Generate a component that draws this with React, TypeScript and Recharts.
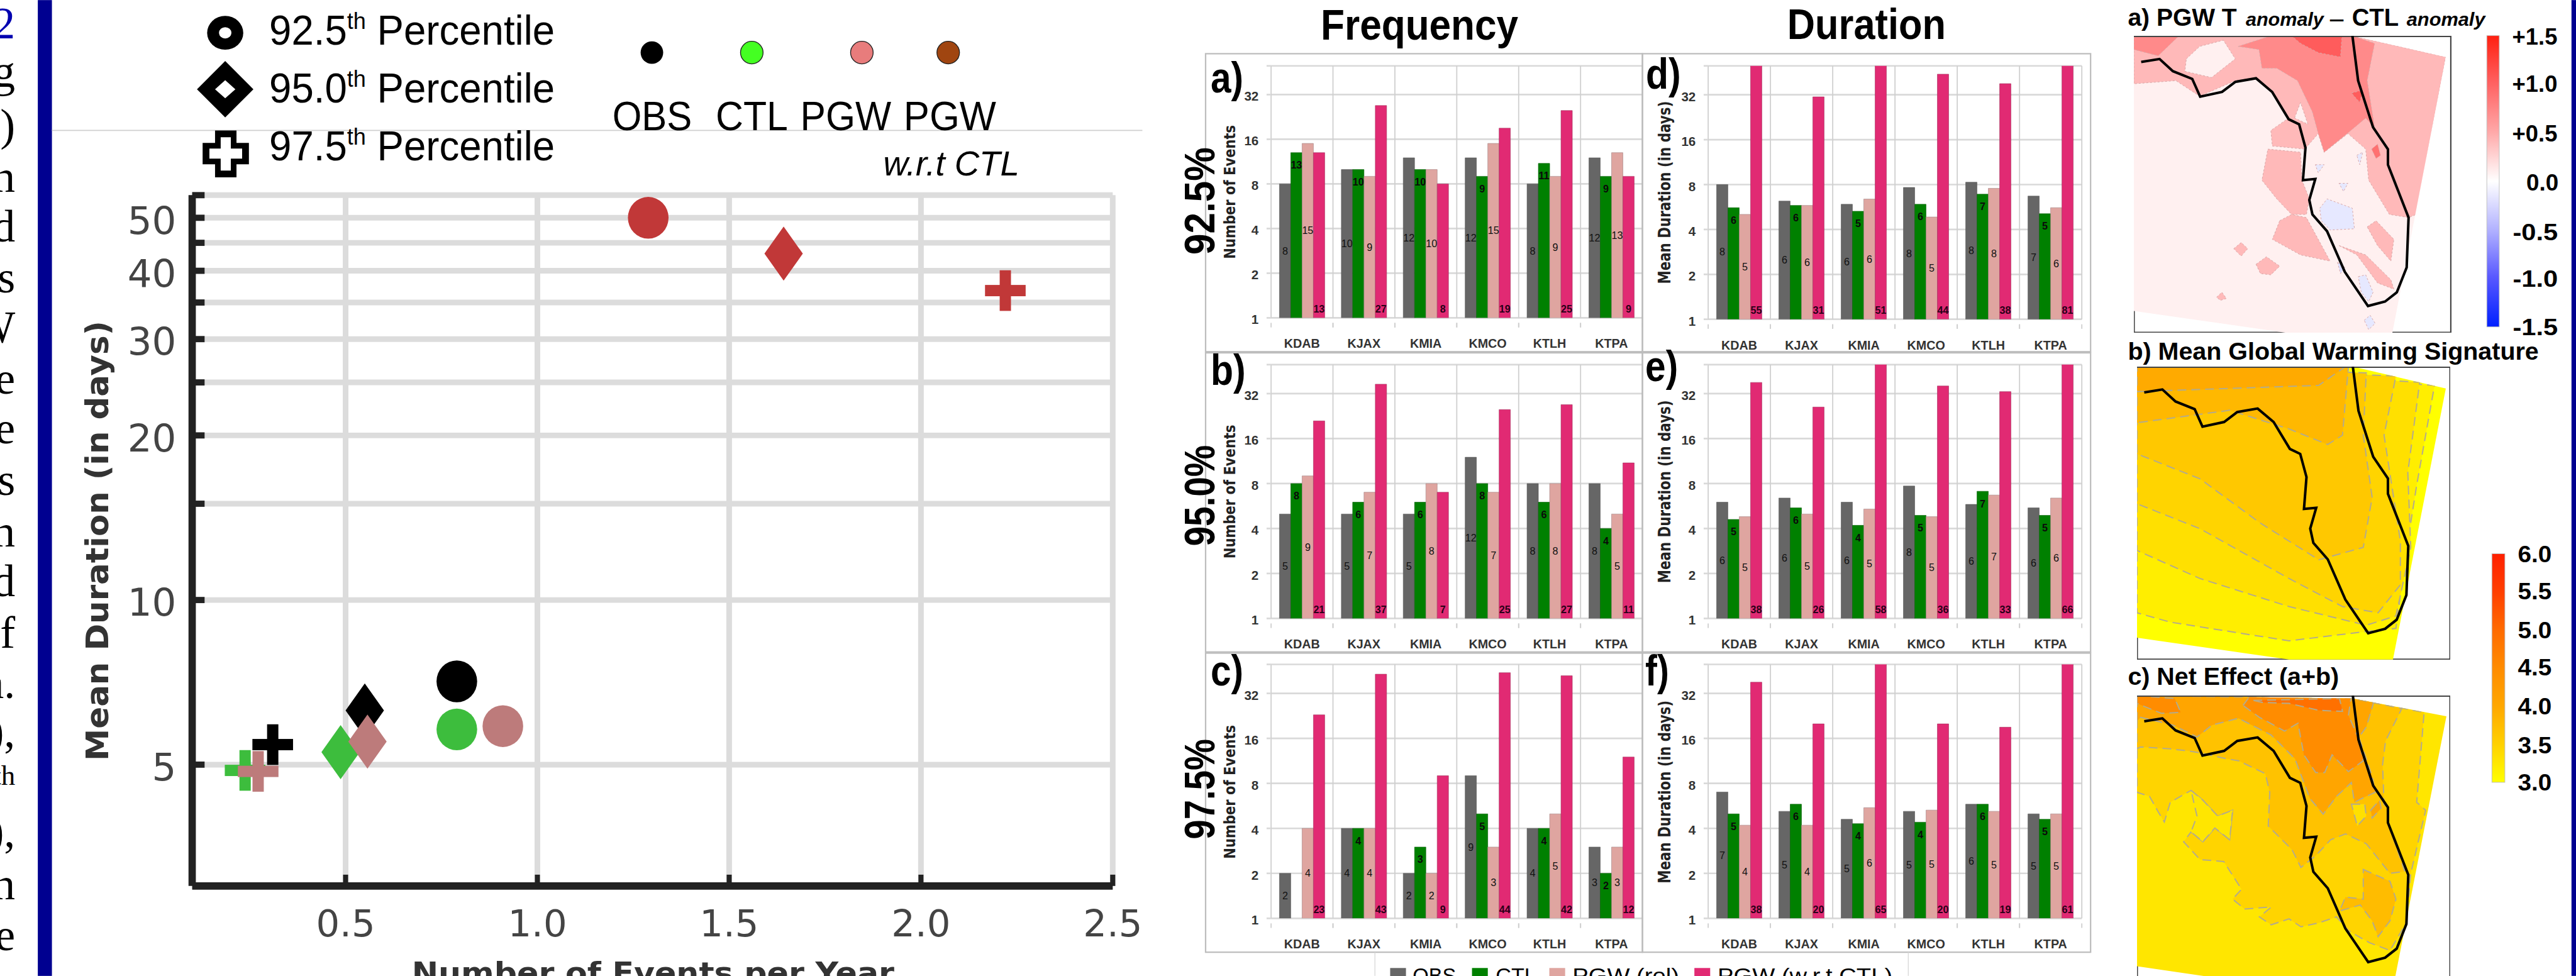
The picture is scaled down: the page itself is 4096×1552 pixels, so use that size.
import {
  Bar,
  BarChart,
  CartesianGrid,
  LabelList,
  Line,
  LineChart,
  Scatter,
  ScatterChart,
  XAxis,
  YAxis,
} from "recharts";

// the reference is 4564 wide, everything is read in its pixels and scaled here
const S = 4096 / 4564;
const s = (v: number) => v * S;

const SANS = "Liberation Sans";
const DEJAVU = "DejaVu Sans";

const stations = ["KDAB", "KJAX", "KMIA", "KMCO", "KTLH", "KTPA"];
const barTicks = [1, 2, 4, 8, 16, 32, 50];

const C_OBS = "#666666";
const C_CTL = "#008000";
const C_PGW = "#dfa5a0";
const C_WRT = "#e12a73";

// Frequency, number of events
const freqA = {
  obs: [8, 10, 12, 12, 8, 12],
  ctl: [13, 10, 10, 9, 11, 9],
  pgw: [15, 9, 10, 15, 9, 13],
  wrt: [13, 27, 8, 19, 25, 9],
};
const freqB = {
  obs: [5, 5, 5, 12, 8, 8],
  ctl: [8, 6, 6, 8, 6, 4],
  pgw: [9, 7, 8, 7, 8, 5],
  wrt: [21, 37, 7, 25, 27, 11],
};
const freqC = {
  obs: [2, 4, 2, 9, 4, 3],
  ctl: [1, 4, 3, 5, 4, 2],
  pgw: [4, 4, 2, 3, 5, 3],
  wrt: [23, 43, 9, 44, 42, 12],
};

// Duration, mean days
const durD = {
  obs: [8.0, 6.2, 5.9, 7.65, 8.3, 6.7],
  ctl: [5.6, 5.8, 5.3, 5.9, 6.9, 5.1],
  pgw: [5.05, 5.8, 6.4, 4.85, 7.55, 5.6],
  wrt: [55, 31, 51, 44, 38, 81],
};
const durE = {
  obs: [6.0, 6.4, 6.0, 7.7, 5.8, 5.5],
  ctl: [4.6, 5.5, 4.2, 4.9, 7.1, 4.9],
  pgw: [4.8, 5.0, 5.4, 4.8, 6.7, 6.4],
  wrt: [38, 26, 58, 36, 33, 66],
};
const durF = {
  obs: [7.0, 5.2, 4.6, 5.2, 5.8, 5.0],
  ctl: [5.0, 5.8, 4.3, 4.4, 5.8, 4.6],
  pgw: [4.2, 4.2, 5.5, 5.3, 5.2, 5.0],
  wrt: [38, 20, 65, 20, 19, 61],
};

// Scatter, order is 92.5 / 95.0 / 97.5 percentile
const scatterKinds = ["circle", "diamond", "plus"];
const obsEvents = [0.79, 0.55, 0.31];
const obsDays = [7.1, 6.28, 5.44];
const ctlEvents = [0.79, 0.487, 0.238];
const ctlDays = [5.8, 5.27, 4.88];
const pgwEvents = [0.91, 0.557, 0.272];
const pgwDays = [5.88, 5.51, 4.86];
const wrtEvents = [1.289, 1.642, 2.22];
const wrtDays = [50, 43, 36.8];

const scatterSeries = [
  { color: "#000000", xs: obsEvents, ys: obsDays },
  { color: "#3dbd3d", xs: ctlEvents, ys: ctlDays },
  { color: "#bd7b7b", xs: pgwEvents, ys: pgwDays },
  { color: "#c13838", xs: wrtEvents, ys: wrtDays },
];

const scatterXTicks = [0.5, 1, 1.5, 2, 2.5];
const scatterYTicks = [5, 10, 15, 20, 25, 30, 35, 40, 45, 50, 55];
const scatterYLabels = [5, 10, 20, 30, 40, 50];

// Florida coast, percent of the map frame
const coastX = [2.3, 8.1, 12.3, 18.4, 20.9, 27.8, 32, 38.5, 43.6, 48.8, 52.1, 54.1, 53.3, 57.2, 55.3, 56.3, 60.9, 66.5, 73.8, 79.2, 82.9, 86, 86.6, 80.1, 80.1, 75.4, 70.7, 68.9];
const coastY = [8.8, 7.8, 11.9, 14.5, 20.5, 18.9, 15.5, 14.3, 18.9, 28.1, 29.8, 37.7, 48.6, 48.2, 55.3, 60.2, 65.8, 79.5, 91, 89.5, 86.4, 78, 61.2, 43.4, 38.2, 30.8, 15.1, 0];
const coast = coastX.map((x, i) => ({ x, y: coastY[i] }));

const mapA = {
  frame: [78, 58, 1070, 477],
  domain: "78,58 815,58 1130,92 950,535 590,535 78,500",
  fill: "#fff0f0",
  dashed: false,
  layers: [
    ["#ffb9b9", "78,58 815,58 1130,92 1030,345 1005,350 940,345 870,290 860,240 800,215 720,245 700,215 655,240 545,235 540,210 600,190 545,150 490,125 420,130 300,155 220,130 78,135"],
    ["#ffb9b9", "530,240 640,245 645,290 670,320 660,345 610,345 560,320 510,290"],
    ["#ffb9b9", "570,355 610,345 660,350 740,420 640,410 545,385"],
    ["#ffb9b9", "865,365 895,355 955,385 945,420 900,395"],
    ["#ffb9b9", "770,395 860,410 945,450 955,465 900,455 830,410"],
    ["#ffb9b9", "415,400 440,390 462,400 440,412"],
    ["#ffb9b9", "490,425 525,413 570,428 540,442 505,440"],
    ["#ffb9b9", "357,478 375,470 390,480 370,483"],
    ["#fff0f0", "255,95 300,75 380,65 420,95 340,125 250,115"],
    ["#fff0f0", "620,190 640,165 665,200"],
    ["#ff8a8a", "430,75 540,58 815,58 890,70 865,130 890,205 860,190 810,210 720,245 700,215 680,180 630,130 560,110 510,110 500,80"],
    ["#ff8a8a", "78,58 230,58 160,90 78,80"],
    ["#ff5c5c", "610,58 780,58 775,92 700,85 640,70"],
    ["#ff5c5c", "812,150 850,145 840,165"],
    ["#ff7070", "880,240 900,232 910,250 895,255"],
    ["#e6e8ff", "705,335 730,320 815,335 822,368 740,370 710,355"],
    ["#e6e8ff", "835,445 860,442 885,470 870,485 845,470"],
    ["#d8dcff", "765,422 790,430 775,440"],
    ["#e6e8ff", "855,515 875,507 892,520 870,530"],
    ["#e6e8ff", "690,265 720,265 700,278"],
    ["#e6e8ff", "770,295 800,295 785,308"],
    ["#e6e8ff", "830,250 850,245 840,265"],
  ],
};

const mapB = {
  frame: [88, 590, 1055, 470],
  domain: "88,590 815,590 1128,625 950,1060 600,1060 88,1025",
  fill: "#ffff00",
  dashed: true,
  layers: [
    ["#ffee00", "88,590 1090,620 1030,780 1000,870 960,1010 860,1015 600,1030 200,1000 88,985"],
    ["#ffe000", "88,590 1040,615 1000,760 1010,880 960,990 860,1005 600,975 300,930 88,885"],
    ["#ffd400", "88,590 960,605 920,700 975,870 975,940 900,985 780,975 600,930 300,850 88,810"],
    ["#ffc800", "88,590 860,600 850,700 880,800 850,880 700,900 500,840 300,770 88,730"],
    ["#ffb800", "88,590 800,590 780,700 730,715 600,690 400,660 88,680"],
    ["#ffaa00", "88,590 790,590 700,620 400,625 88,630"],
  ],
};

const mapC = {
  frame: [88, 150, 1055, 1482],
  domain: "88,150 815,165 1130,255 950,1632 600,1632 88,1520",
  fill: "#ffe600",
  dashed: true,
  layers: [
    ["#ffd400", "88,150 815,165 1055,235 1030,690 1060,730 1010,1050 995,1300 940,1440 870,1400 800,1340 760,1270 700,1300 640,1320 600,1280 540,1310 500,1270 540,1220 450,1230 410,1180 440,1130 380,990 300,980 245,890 270,840 310,890 350,820 400,880 410,730 360,760 310,680 270,630 200,690 180,790 160,740 130,660 88,640"],
    ["#ffc200", "88,150 815,165 980,215 925,380 915,500 920,700 935,720 935,800 990,1040 940,1050 860,900 790,850 740,880 690,960 640,1020 610,930 530,810 535,640 520,545 430,480 390,470 300,440 260,430 200,420 100,410 88,420"],
    ["#ffa500", "88,150 815,165 885,185 860,310 835,360 880,560 890,640 860,660 820,690 810,590 760,660 715,750 670,670 650,590 620,470 540,350 430,265 340,300 290,360 210,300 100,260 88,280"],
    ["#ff8c00", "445,200 470,150 810,150 800,250 835,370 850,480 800,535 745,450 720,540 690,540 650,450 630,290 585,330 500,260"],
    ["#ff8c00", "88,150 215,165 235,235 170,240 88,190"],
    ["#ff7000", "480,175 770,165 780,230 700,225 600,190 510,185"],
    ["#ffbc00", "850,1030 940,1090 960,1180 940,1290 900,1370 880,1290 840,1210 770,1240 790,1170 850,1180"],
    ["#ffa500", "875,730 905,680 910,720 880,770"],
    ["#ffe000", "810,700 855,700 860,760 830,810"],
    ["#ffe600", "270,630 310,680 360,760 410,730 400,880 350,820 310,890 270,840 290,760"],
  ],
};

type Levels = { obs: number[]; ctl: number[]; pgw: number[]; wrt: number[] };

const barLayout = [
  { levels: freqA, l: 2136, r: 2910, boxT: 95, boxB: 623, pl: 2252, pr: 2910, pt: 117, pb: 563.5 },
  { levels: freqB, l: 2136, r: 2910, boxT: 625, boxB: 1155, pl: 2252, pr: 2910, pt: 646, pb: 1095.7 },
  { levels: freqC, l: 2136, r: 2910, boxT: 1157, boxB: 1687, pl: 2252, pr: 2910, pt: 1177.6, pb: 1627.6 },
  { levels: durD, l: 2910, r: 3704, boxT: 95, boxB: 623, pl: 3026, pr: 3688, pt: 117, pb: 566 },
  { levels: durE, l: 2910, r: 3704, boxT: 625, boxB: 1155, pl: 3026, pr: 3688, pt: 646, pb: 1095.7 },
  { levels: durF, l: 2910, r: 3704, boxT: 1157, boxB: 1687, pl: 3026, pr: 3688, pt: 1177.6, pb: 1627.6 },
];

function barLabel(mode: "middle" | "top" | "base", fill: string) {
  return (props: any) => {
    const box = props.viewBox ?? props;
    const { x, y, width, height } = box;
    const base = y + height;
    let ty = y + height / 2;
    if (mode === "top") ty = height < s(40) ? base - s(16) : y + s(22);
    if (mode === "base") ty = base - s(16);
    return (
      <text
        x={x + width / 2}
        y={ty}
        dy="0.35em"
        textAnchor="middle"
        fontFamily={SANS}
        fontSize={s(18)}
        fontWeight={mode === "middle" ? "normal" : "bold"}
        fill={fill}
      >
        {Math.round(props.value)}
      </text>
    );
  };
}

function StationTick(props: any) {
  const { x, y, payload, band } = props;
  return (
    <g>
      <line x1={x - band / 2} x2={x - band / 2} y1={y} y2={y + s(8)} stroke="#cfcfcf" strokeWidth={s(2)} />
      <line x1={x + band / 2} x2={x + band / 2} y1={y} y2={y + s(8)} stroke="#cfcfcf" strokeWidth={s(2)} />
      <text x={x} y={y + s(44.5)} textAnchor="middle" fontFamily={SANS} fontSize={s(22)} fontWeight="bold" fill="#333">
        {payload.value}
      </text>
    </g>
  );
}

function BarPanel({ p }: { p: (typeof barLayout)[number] }) {
  const levels: Levels = p.levels;
  const data = stations.map((station, i) => ({
    station,
    obs: levels.obs[i],
    ctl: levels.ctl[i],
    pgw: levels.pgw[i],
    wrt: levels.wrt[i],
  }));
  const band = s(p.pr - p.pl) / stations.length;
  const axisW = 60;
  return (
    <div style={{ position: "absolute", left: s(p.l), top: s(p.boxT) }}>
      <BarChart
        width={s(p.r - p.l)}
        height={s(p.boxB - p.boxT)}
        data={data}
        barGap={0}
        barCategoryGap="13.5%"
        margin={{ left: s(p.pl - p.l - axisW), right: s(p.r - p.pr), top: s(p.pt - p.boxT), bottom: 0 }}
      >
        <CartesianGrid vertical={false} stroke="#d9d9d9" strokeWidth={s(3)} />
        <CartesianGrid
          horizontal={false}
          stroke="#cfcfcf"
          strokeWidth={s(2)}
          verticalCoordinatesGenerator={({ offset }: any) =>
            stations.concat("end").map((_, i) => offset.left + (i * offset.width) / stations.length)
          }
        />
        <XAxis
          dataKey="station"
          height={s(p.boxB - p.pb)}
          axisLine={false}
          tickLine={false}
          interval={0}
          tick={<StationTick band={band} />}
        />
        <YAxis
          type="number"
          scale="log"
          domain={[1, 50]}
          allowDataOverflow
          ticks={barTicks}
          interval={0}
          width={s(axisW)}
          axisLine={false}
          tickSize={s(8)}
          tickMargin={s(14)}
          tickLine={{ stroke: "#d9d9d9", strokeWidth: s(3) }}
          tickFormatter={(v: number) => (v === 50 ? "" : String(v))}
          tick={{ fontFamily: SANS, fontSize: s(23), fontWeight: "bold", fill: "#333", dy: s(3) }}
        />
        <Bar dataKey="obs" fill={C_OBS} stroke="#555" strokeWidth={0.6} isAnimationActive={false}>
          <LabelList dataKey="obs" content={barLabel("middle", "#111")} />
        </Bar>
        <Bar dataKey="ctl" fill={C_CTL} stroke="#055a05" strokeWidth={0.6} isAnimationActive={false}>
          <LabelList dataKey="ctl" content={barLabel("top", "#0a0a0a")} />
        </Bar>
        <Bar dataKey="pgw" fill={C_PGW} stroke="#a08080" strokeWidth={0.6} isAnimationActive={false}>
          <LabelList dataKey="pgw" content={barLabel("middle", "#111")} />
        </Bar>
        <Bar dataKey="wrt" fill={C_WRT} stroke="#a0305a" strokeWidth={0.6} isAnimationActive={false}>
          <LabelList dataKey="wrt" content={barLabel("base", "#2a0018")} />
        </Bar>
      </BarChart>
    </div>
  );
}

function Marker({ cx, cy, kind, color }: any) {
  if (kind === "circle") return <ellipse cx={cx} cy={cy} rx={s(36)} ry={s(37)} fill={color} />;
  if (kind === "diamond") {
    const w = s(34);
    const h = s(48);
    return <polygon points={`${cx},${cy - h} ${cx + w},${cy} ${cx},${cy + h} ${cx - w},${cy}`} fill={color} />;
  }
  const w = s(36);
  const t = s(10);
  return (
    <g fill={color}>
      <rect x={cx - w} y={cy - t} width={w * 2} height={t * 2} />
      <rect x={cx - t} y={cy - w} width={t * 2} height={w * 2} />
    </g>
  );
}

function ScatterPanel() {
  // chart box 170..2090 x 320..1700, plot 340..1971 x 346..1570
  const axisW = 120;
  return (
    <div style={{ position: "absolute", left: s(170), top: s(320) }}>
      <ScatterChart
        width={s(1920)}
        height={s(1380)}
        margin={{ left: s(340 - 170 - axisW), right: s(2090 - 1971), top: s(346 - 320), bottom: 0 }}
      >
        <CartesianGrid stroke="#dcdcdc" strokeWidth={s(10)} />
        <XAxis
          type="number"
          dataKey="x"
          domain={[0.1, 2.5]}
          ticks={scatterXTicks}
          interval={0}
          allowDataOverflow
          height={s(1700 - 1570)}
          axisLine={{ stroke: "#222", strokeWidth: s(13) }}
          tickLine={{ stroke: "#222", strokeWidth: s(9) }}
          tickSize={-s(20)}
          tickMargin={s(62)}
          tickFormatter={(v: number) => v.toFixed(1)}
          tick={{ fontFamily: DEJAVU, fontSize: s(66), fill: "#444" }}
        />
        <YAxis
          type="number"
          dataKey="y"
          scale="log"
          domain={[3, 55]}
          ticks={scatterYTicks}
          interval={0}
          allowDataOverflow
          width={s(axisW)}
          axisLine={{ stroke: "#222", strokeWidth: s(13) }}
          tickLine={{ stroke: "#222", strokeWidth: s(11) }}
          tickSize={-s(22)}
          tickMargin={s(50)}
          tickFormatter={(v: number) => (scatterYLabels.includes(v) ? String(v) : "")}
          tick={{ fontFamily: DEJAVU, fontSize: s(68), fill: "#444", dy: s(4) }}
        />
        {scatterSeries.map((series) =>
          scatterKinds.map((kind, i) => (
            <Scatter
              key={series.color + kind}
              data={[{ x: series.xs[i], y: series.ys[i] }]}
              isAnimationActive={false}
              shape={(p: any) => <Marker cx={p.cx} cy={p.cy} kind={kind} color={series.color} />}
            />
          ))
        )}
      </ScatterChart>
    </div>
  );
}

type Box = { x: number; y: number; w: number; h: number };

function MapPanel({ map, box, id }: { map: typeof mapA; box: Box; id: string }) {
  const [fx, fy, fw, fh] = map.frame;
  const left = s(box.x);
  const top = s(box.y);
  return (
    <div style={{ position: "absolute", left, top, width: s(box.w), height: s(box.h) }}>
      <svg
        width={s(box.w)}
        height={s(box.h)}
        viewBox={`${fx} ${fy} ${fw} ${fh}`}
        preserveAspectRatio="none"
        style={{ position: "absolute", left: 0, top: 0 }}
      >
        <clipPath id={id}>
          <polygon points={map.domain} />
        </clipPath>
        <rect
          x={fx}
          y={fy}
          width={fw}
          height={fh}
          fill="#fff"
          stroke="#444"
          strokeWidth={3}
          vectorEffect="non-scaling-stroke"
        />
        <polygon points={map.domain} fill={map.fill} />
        <g clipPath={`url(#${id})`}>
          {map.layers.map(([fill, points], i) => (
            <polygon
              key={i}
              points={points}
              fill={fill}
              stroke={map.dashed ? "#b4ab8c" : "#d8a8a8"}
              strokeWidth={map.dashed ? 2 : 1}
              strokeDasharray={map.dashed ? "14 8" : "3 3"}
              vectorEffect="non-scaling-stroke"
            />
          ))}
        </g>
        <line x1={fx} x2={fx + fw} y1={fy} y2={fy} stroke="#444" strokeWidth={4} vectorEffect="non-scaling-stroke" />
      </svg>
      <div style={{ position: "absolute", left: 0, top: 0 }}>
        <LineChart width={s(box.w)} height={s(box.h)} data={coast} margin={{ left: 0, right: 0, top: 0, bottom: 0 }}>
          <XAxis type="number" dataKey="x" domain={[0, 100]} hide />
          <YAxis type="number" dataKey="y" domain={[0, 100]} reversed hide />
          <Line dataKey="y" stroke="#000" strokeWidth={s(4.5)} dot={false} isAnimationActive={false} />
        </LineChart>
      </div>
    </div>
  );
}

function T({ x, y, size, children, weight, style, anchor, family, fill, len, rot }: any) {
  return (
    <text
      x={x}
      y={y}
      fontSize={size}
      fontWeight={weight}
      fontStyle={style}
      textAnchor={anchor ?? "start"}
      fontFamily={family ?? SANS}
      fill={fill ?? "#000"}
      textLength={len}
      lengthAdjust={len ? "spacingAndGlyphs" : undefined}
      transform={rot ? `rotate(${rot} ${x} ${y})` : undefined}
    >
      {children}
    </text>
  );
}

// cut-off running text left of the blue bar
const sideLetters = ["2", "g", ")", "n", "d", "s", "W", "e", "e", "s", "n", "d", "f", "n.", "),", "th", "),", "n", "e"];
const sideRows = [68, 154, 248, 340, 428, 518, 606, 697, 785, 877, 968, 1056, 1147, 1237, 1323, 1390, 1500, 1593, 1683];

const coldTicks = [
  ["+1.5", 64, 4451],
  ["+1.0", 147, 4451],
  ["+0.5", 235, 4451],
  ["0.0", 323, 4476],
  ["-0.5", 410, 4452],
  ["-1.0", 493, 4452],
  ["-1.5", 579, 4452],
];
const warmTicks = ["6.0", "5.5", "5.0", "4.5", "4.0", "3.5", "3.0"];
const warmRows = [981, 1047, 1116, 1182, 1251, 1320, 1386];

const legendItems = [
  { label: "OBS", color: C_OBS, sq: 2463, tx: 2503, w: 77 },
  { label: "CTL", color: C_CTL, sq: 2608, tx: 2650, w: 72 },
  { label: "PGW (rel)", color: C_PGW, sq: 2745, tx: 2786, w: 189 },
  { label: "PGW (w.r.t CTL)", color: C_WRT, sq: 3002, tx: 3043, w: 310 },
];

function Overlay() {
  return (
    <svg
      viewBox="0 0 4564 1729"
      width={4096}
      height={1552}
      style={{ position: "absolute", left: 0, top: 0, pointerEvents: "none" }}
    >
      <defs>
        <linearGradient id="coldBar" x1="0" y1="0" x2="0" y2="1">
          <stop offset="0" stopColor="#ff2010" />
          <stop offset="0.16" stopColor="#ff6060" />
          <stop offset="0.33" stopColor="#ffa8a8" />
          <stop offset="0.5" stopColor="#ffffff" />
          <stop offset="0.67" stopColor="#b0b0ff" />
          <stop offset="0.83" stopColor="#5858ff" />
          <stop offset="1" stopColor="#0020ff" />
        </linearGradient>
        <linearGradient id="warmBar" x1="0" y1="0" x2="0" y2="1">
          <stop offset="0" stopColor="#ff2000" />
          <stop offset="0.17" stopColor="#ff4000" />
          <stop offset="0.33" stopColor="#ff6a00" />
          <stop offset="0.5" stopColor="#ff8c00" />
          <stop offset="0.67" stopColor="#ffa800" />
          <stop offset="0.83" stopColor="#ffd000" />
          <stop offset="1" stopColor="#ffff00" />
        </linearGradient>
      </defs>

      {/* page furniture */}
      <rect x={67} y={0} width={25} height={1729} fill="#000090" />
      <rect x={4556} y={0} width={8} height={1729} fill="#000090" />
      <line x1={92} x2={2024} y1={231} y2={231} stroke="#cfcfcf" strokeWidth={2} />
      {sideLetters.map((c, i) => (
        <T
          key={i}
          x={27}
          y={sideRows[i]}
          size={c === "th" ? 50 : 80}
          anchor="end"
          family="Liberation Serif"
          fill={i === 0 ? "#0000b0" : "#000"}
        >
          {c}
        </T>
      ))}

      {/* scatter legend */}
      <ellipse cx={399} cy={58} rx={32} ry={30} fill="#000" />
      <ellipse cx={399} cy={58} rx={11} ry={10} fill="#fff" />
      <polygon points="399,108 449,158 399,208 349,158" fill="#000" />
      <polygon points="399,142 417,158 399,174 381,158" fill="#fff" />
      <path d="M381 231h38v22h22v38h-22v23h-38v-23h-22v-38h22z" fill="#000" />
      <path d="M391 243h18v20h20v18h-20v21h-18v-21h-20v-18h20z" fill="#fff" />
      {[
        ["92.5", 79],
        ["95.0", 182],
        ["97.5", 284],
      ].map(([value, y]) => (
        <text key={value} x={477} y={y} fontFamily={SANS} fontSize={74} textLength={506} lengthAdjust="spacingAndGlyphs">
          {value}
          <tspan fontSize={42} dy={-28}>th</tspan>
          <tspan dy={28}> Percentile</tspan>
        </text>
      ))}
      <circle cx={1155} cy={93} r={20} fill="#000" />
      <circle cx={1332} cy={93} r={20} fill="#44ff22" stroke="#222" strokeWidth={1.5} />
      <circle cx={1527} cy={93} r={20} fill="#e87c7c" stroke="#222" strokeWidth={1.5} />
      <circle cx={1680} cy={93} r={20} fill="#a04510" stroke="#222" strokeWidth={1.5} />
      <T x={1085} y={231} size={72} len={141}>OBS</T>
      <T x={1268} y={231} size={72} len={128}>CTL</T>
      <T x={1418} y={231} size={72} len={161}>PGW</T>
      <T x={1601} y={231} size={72} len={164}>PGW</T>
      <T x={1565} y={311} size={62} style="italic" len={241}>w.r.t CTL</T>

      {/* scatter axis titles */}
      <T x={192} y={958} size={56} weight="bold" family={DEJAVU} anchor="middle" fill="#333" rot={-90} len={780}>
        Mean Duration (in days)
      </T>
      <T x={1157} y={1741} size={52} weight="bold" family={DEJAVU} anchor="middle" fill="#333" len={855}>
        Number of Events per Year
      </T>

      {/* bar panel frames */}
      {barLayout.map((p, i) => (
        <rect
          key={i}
          x={p.l}
          y={p.boxT}
          width={p.r - p.l}
          height={p.boxB - p.boxT}
          fill="none"
          stroke="#bdbdbd"
          strokeWidth={2.5}
        />
      ))}

      {/* bar panel headings */}
      <T x={2515} y={70} size={76} weight="bold" anchor="middle" len={350}>Frequency</T>
      <T x={3307} y={69} size={76} weight="bold" anchor="middle" len={281}>Duration</T>
      <T x={2145} y={164} size={76} weight="bold" len={58}>a)</T>
      <T x={2145} y={682} size={76} weight="bold" len={62}>b)</T>
      <T x={2145} y={1214} size={76} weight="bold" len={58}>c)</T>
      <T x={2916} y={157} size={76} weight="bold" len={62}>d)</T>
      <T x={2915} y={675} size={76} weight="bold" len={58}>e)</T>
      <T x={2915} y={1214} size={76} weight="bold" len={42}>f)</T>

      <T x={2152} y={356} size={76} weight="bold" anchor="middle" rot={-90} len={190}>92.5%</T>
      <T x={2152} y={878} size={76} weight="bold" anchor="middle" rot={-90} len={179}>95.0%</T>
      <T x={2152} y={1398} size={76} weight="bold" anchor="middle" rot={-90} len={178}>97.5%</T>

      {[340, 871, 1403].map((y) => (
        <T key={y} x={2188} y={y} size={28} family={DEJAVU} weight="bold" fill="#222" anchor="middle" rot={-90} len={237}>
          Number of Events
        </T>
      ))}
      {[341, 871, 1403].map((y) => (
        <T key={y} x={2960} y={y} size={29} family={DEJAVU} weight="bold" fill="#222" anchor="middle" rot={-90} len={324}>
          Mean Duration (in days)
        </T>
      ))}

      {/* shared bar legend, runs off the page */}
      <line x1={2436} x2={2436} y1={1687} y2={1729} stroke="#d8d8d8" strokeWidth={1.5} />
      <line x1={3381} x2={3381} y1={1687} y2={1729} stroke="#d8d8d8" strokeWidth={1.5} />
      {legendItems.map((item) => (
        <g key={item.label + item.tx}>
          <rect x={item.sq} y={1715} width={28} height={26} fill={item.color} />
          <T x={item.tx} y={1741} size={36} len={item.w}>{item.label}</T>
        </g>
      ))}

      {/* map titles */}
      <T x={3770} y={46} size={44} weight="bold" len={193}>a) PGW T</T>
      <T x={3979} y={46} size={32} weight="bold" style="italic" len={138}>anomaly</T>
      <T x={4128} y={46} size={32} weight="bold" len={24}>—</T>
      <T x={4167} y={46} size={44} weight="bold" len={83}>CTL</T>
      <T x={4264} y={46} size={32} weight="bold" style="italic" len={139}>anomaly</T>
      <T x={3770} y={637} size={44} weight="bold" len={728}>b) Mean Global Warming Signature</T>
      <T x={3770} y={1213} size={44} weight="bold" len={374}>c) Net Effect (a+b)</T>

      {/* colour bars */}
      <rect x={4406} y={63} width={22} height={516} fill="url(#coldBar)" stroke="#bbb" strokeWidth={1} />
      {coldTicks.map(([label, y, x]) => (
        <T key={label as string} x={x} y={(y as number) + 15} size={42} weight="bold" len={label === "0.0" ? 57 : 80}>
          {label}
        </T>
      ))}
      <rect x={4415} y={981} width={23} height={405} fill="url(#warmBar)" stroke="#bbb" strokeWidth={1} />
      {warmTicks.map((label, i) => (
        <T key={label} x={4461} y={warmRows[i] + 15} size={42} weight="bold" len={60}>
          {label}
        </T>
      ))}
    </svg>
  );
}

export default function App() {
  return (
    <div
      style={{
        position: "absolute",
        left: 0,
        top: 0,
        width: 4096,
        height: 1552,
        overflow: "hidden",
        background: "#fff",
      }}
    >
      <ScatterPanel />
      {barLayout.map((p, i) => (
        <BarPanel key={i} p={p} />
      ))}
      <MapPanel map={mapA} id="domA" box={{ x: 3781, y: 64, w: 562, h: 526 }} />
      <MapPanel map={mapB} id="domB" box={{ x: 3786, y: 650, w: 555, h: 519 }} />
      <MapPanel map={mapC} id="domC" box={{ x: 3786, y: 1232.5, w: 555, h: 519 }} />
      <Overlay />
    </div>
  );
}
